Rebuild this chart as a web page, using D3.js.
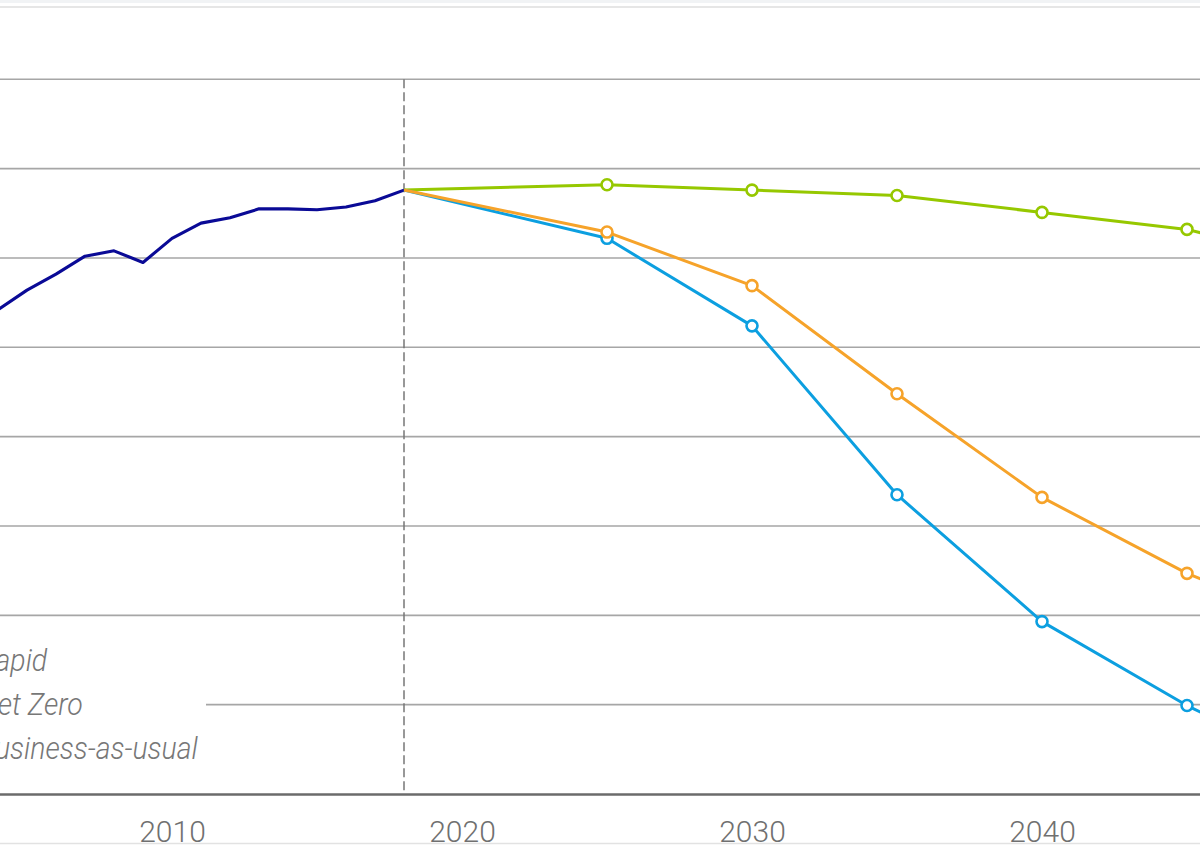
<!DOCTYPE html>
<html>
<head>
<meta charset="utf-8">
<script src="https://cdn.jsdelivr.net/npm/d3@7"></script>
<style>
  body { margin: 0; background: #fff; overflow: hidden; }
  svg { display: block; }
</style>
</head>
<body>
<svg id="chart"></svg>
<script>
// CO2 emissions (Gt), history and three scenarios
var histYears = [2004, 2005, 2006, 2007, 2008, 2009, 2010, 2011, 2012, 2013, 2014, 2015, 2016, 2017, 2018];
var histValues = [27.1, 28.2, 29.1, 30.1, 30.4, 29.75, 31.1, 31.95, 32.25, 32.75, 32.75, 32.7, 32.85, 33.2, 33.8];

var scenarioYears = [2018, 2025, 2030, 2035, 2040, 2045, 2050];
var bauValues = [33.8, 34.1, 33.8, 33.5, 32.55, 31.6, 29.6];
var rapidValues = [33.8, 31.45, 28.45, 22.4, 16.6, 12.35, 9.1];
var netZeroValues = [33.8, 31.1, 26.2, 16.75, 9.65, 4.95, 1.0];

var legendLabels = ['Rapid', 'Net Zero', 'Business-as-usual'];
var xTicks = [2000, 2010, 2020, 2030, 2040, 2050];
var yTicks = [5, 10, 15, 20, 25, 30, 35, 40];
var splitYear = 2018;

var width = 1200, height = 847;
var svg = d3.select('#chart').attr('width', width).attr('height', height);

var x = d3.scaleLinear().domain([2000, 2050]).range([-118, 1332]);
var y = d3.scaleLinear().domain([0, 40]).range([794, 79.3]);

// page chrome
svg.append('rect').attr('x', 0).attr('y', 0).attr('width', width).attr('height', 3).attr('fill', '#f1f3f5');
svg.append('line').attr('x1', 0).attr('x2', width).attr('y1', 7).attr('y2', 7)
    .attr('stroke', '#dedede').attr('stroke-width', 1.5);
svg.append('line').attr('x1', 0).attr('x2', width).attr('y1', 843.5).attr('y2', 843.5)
    .attr('stroke', '#e2e2e2').attr('stroke-width', 1.5);

// gridlines
svg.append('g')
    .selectAll('line')
    .data(yTicks)
    .enter()
    .append('line')
    .attr('x1', x(2000)).attr('x2', x(2050))
    .attr('y1', function (d) { return y(d); })
    .attr('y2', function (d) { return y(d); })
    .attr('stroke', '#a6a6a6').attr('stroke-width', 1.6);

// legend box sits over the gridlines
var legend = svg.append('g');
legend.append('rect').attr('x', -200).attr('y', 630).attr('width', 406).attr('height', 150).attr('fill', '#fff');
legend.selectAll('text')
    .data(legendLabels)
    .enter()
    .append('text')
    .attr('transform', function (d, i) { return 'translate(-22,' + (671 + i * 44) + ') scale(0.89,1)'; })
    .attr('font-family', 'Roboto, sans-serif')
    .attr('font-weight', 300)
    .attr('font-style', 'italic')
    .attr('font-size', 32)
    .attr('fill', '#777')
    .text(function (d) { return d; });

// split between history and projections
svg.append('line')
    .attr('x1', x(splitYear)).attr('x2', x(splitYear))
    .attr('y1', y(40)).attr('y2', y(0))
    .attr('stroke', '#777').attr('stroke-width', 1.5).attr('stroke-dasharray', '9,4');

// x axis
var xAxis = d3.axisBottom(x).tickValues(xTicks).tickFormat(d3.format('d')).tickSize(0).tickPadding(27);
var gx = svg.append('g').attr('transform', 'translate(0,' + y(0) + ')').call(xAxis);
gx.select('.domain').attr('stroke', '#6b6b6b').attr('stroke-width', 2.6);
gx.selectAll('text')
    .attr('font-family', 'Roboto, sans-serif')
    .attr('font-weight', 300)
    .attr('font-size', 30)
    .attr('fill', '#707070');

var line = d3.line()
    .x(function (d) { return x(d[0]); })
    .y(function (d) { return y(d[1]); });

svg.append('path')
    .datum(d3.zip(histYears, histValues))
    .attr('d', line)
    .attr('fill', 'none')
    .attr('stroke', '#0a0a96')
    .attr('stroke-width', 3.1)
    .attr('stroke-linejoin', 'round');

var scenarios = [
    { values: bauValues, color: '#96c800' },
    { values: netZeroValues, color: '#0c9fe0' },
    { values: rapidValues, color: '#f6a32a' }
];

scenarios.forEach(function (s) {
    var pts = d3.zip(scenarioYears, s.values);
    var g = svg.append('g');
    g.append('path')
        .datum(pts)
        .attr('d', line)
        .attr('fill', 'none')
        .attr('stroke', s.color)
        .attr('stroke-width', 3)
        .attr('stroke-linejoin', 'round');
    g.selectAll('circle')
        .data(pts.slice(1))
        .enter()
        .append('circle')
        .attr('cx', function (d) { return x(d[0]); })
        .attr('cy', function (d) { return y(d[1]); })
        .attr('r', 5.5)
        .attr('fill', '#fff')
        .attr('stroke', s.color)
        .attr('stroke-width', 2.6);
});
</script>
</body>
</html>
